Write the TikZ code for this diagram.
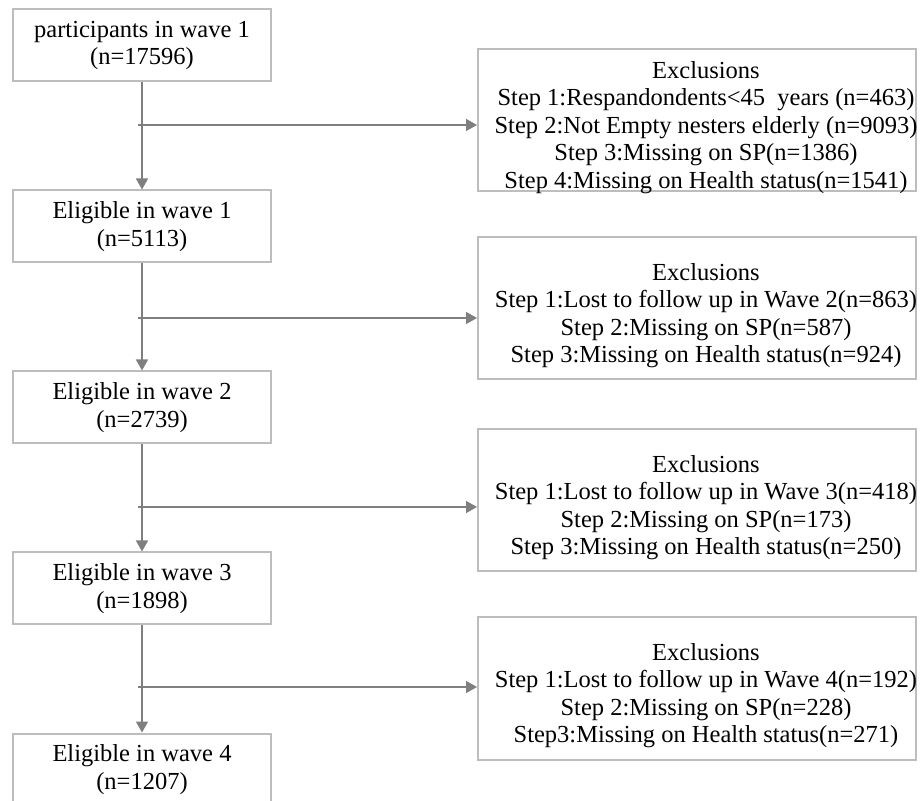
\documentclass[tikz,border=0pt]{standalone}
\usepackage{fontspec}
\setmainfont{Liberation Serif}
\usepackage{xcolor}
\usepackage{tikz}
\usetikzlibrary{positioning, arrows.meta, calc}
\definecolor{boxGray}{HTML}{BDBDBD}
\definecolor{lineGray}{HTML}{7F7F7F}

\begin{document}
\begin{tikzpicture}[x=0.5pt, y=-0.5pt,
    every node/.style={font=\fontsize{12.25pt}{13.75pt}\selectfont},
    waveBox/.style={rectangle, draw=boxGray, line width=1pt, inner sep=0pt,
                    minimum width=129pt, minimum height=36pt, align=center},
    exclBox/.style={rectangle, draw=boxGray, line width=1pt, inner sep=0pt,
                    minimum width=219pt, minimum height=71pt},
    exclText/.style={inner sep=0pt, align=center, xshift=4.5pt, yshift=-3.5pt},
    arr/.style={draw=lineGray, line width=0.75pt, -{Triangle[length=5.5pt, width=6pt]}},
  ]
  \useasboundingbox (0,0) rectangle (921,801);
  \clip (0,0) rectangle (921,801);

  % main column
  \node[waveBox] (b1) at (142,45.5) {participants in wave 1\\(n=17596)};
  \node[waveBox, below=53.5pt of b1] (b2) {Eligible in wave 1\\(n=5113)};
  \node[waveBox, below=53.5pt of b2] (b3) {Eligible in wave 2\\(n=2739)};
  \node[waveBox, below=53.5pt of b3] (b4) {Eligible in wave 3\\(n=1898)};
  \node[waveBox, below=53.5pt of b4] (b5) {Eligible in wave 4\\(n=1207)};

  % exclusions
  \node[exclBox, right=102.5pt of b1, yshift=-37.5pt] (e1) {};
  \node[exclText] (t1) at (e1)
        {Exclusions\\Step 1:Respandondents<45~ years (n=463)\\Step 2:Not Empty nesters elderly (n=9093)\\Step 3:Missing on SP(n=1386)\\Step 4:Missing on Health status(n=1541)};
  \node[exclBox, below=22pt of e1] (e2) {};
  \node[exclText] (t2) at (e2)
        {Exclusions\\Step 1:Lost to follow up in Wave 2(n=863)\\Step 2:Missing on SP(n=587)\\Step 3:Missing on Health status(n=924)};
  \node[exclBox, below=24pt of e2] (e3) {};
  \node[exclText] (t3) at (e3)
        {Exclusions\\Step 1:Lost to follow up in Wave 3(n=418)\\Step 2:Missing on SP(n=173)\\Step 3:Missing on Health status(n=250)};
  \node[exclBox, below=22pt of e3] (e4) {};
  \node[exclText] (t4) at (e4)
        {Exclusions\\Step 1:Lost to follow up in Wave 4(n=192)\\Step 2:Missing on SP(n=228)\\Step3:Missing on Health status(n=271)};

  \foreach \a/\b in {b1/b2, b2/b3, b3/b4, b4/b5}
    \draw[arr] (\a) -- (\b);

  \foreach \k/\dy in {1/-2.25pt, 2/-4.75pt, 3/-3.25pt, 4/0.75pt} {
    \coordinate (j\k) at ($(b\k.south |- e\k.west)+(-2pt,\dy)$);
    \draw[arr] (j\k) -- (j\k -| e\k.west);
  }
\end{tikzpicture}
\end{document}
